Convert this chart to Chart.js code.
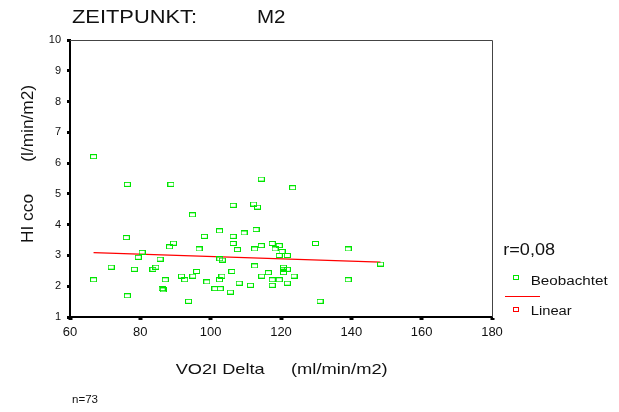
<!DOCTYPE html>
<html>
<head>
<meta charset="utf-8">
<script src="https://cdn.jsdelivr.net/npm/chart.js@4.4.1/dist/chart.umd.min.js"></script>
<style>
  body { margin: 0; background: #fff; }
  canvas { display: block; }
</style>
</head>
<body>
<canvas id="chart" width="619" height="412"></canvas>
<script>
// VO2I Delta (ml/min/m2) per patient
const vo2Delta = [
  66.7, 76.3, 76.0, 80.5, 79.4, 85.6, 71.7, 78.3, 83.6, 84.4,
  66.7, 87.1, 86.2, 86.5, 76.3, 88.7, 106.4, 94.8, 102.5, 106.4,
  98.2, 106.4, 89.4, 88.3, 107.6, 96.7, 102.6, 103.3, 96.0, 106.0,
  91.7, 92.6, 94.9, 103.2, 102.5, 98.9, 108.1, 101.2, 102.7, 105.6,
  93.7, 114.4, 123.3, 112.2, 113.3, 109.5, 112.9, 112.5, 114.4, 117.5,
  119.5, 118.3, 120.3, 119.5, 121.8, 112.5, 120.7, 121.8, 120.7, 116.4,
  114.5, 123.7, 117.5, 119.5, 111.3, 117.5, 121.8, 129.8, 139.1, 148.3,
  139.1, 131.1, 120.7
];
// HI cco (l/min/m2) per patient
const hiCco = [
  6.21, 5.31, 3.58, 3.10, 2.94, 2.88, 2.62, 2.55, 2.55, 2.62,
  2.21, 2.21, 1.92, 1.88, 1.69, 5.31, 4.63, 4.32, 3.80, 3.62,
  3.62, 3.39, 3.40, 3.28, 3.19, 3.21, 2.89, 2.85, 2.48, 2.48,
  2.33, 2.21, 2.33, 2.33, 2.21, 2.14, 2.10, 1.92, 1.92, 1.81,
  1.51, 5.48, 5.20, 4.67, 4.57, 3.73, 3.84, 3.21, 3.32, 3.39,
  3.32, 3.21, 3.13, 3.00, 3.00, 2.66, 2.62, 2.55, 2.44, 2.44,
  2.33, 2.33, 2.21, 2.21, 2.03, 2.03, 2.10, 3.39, 3.21, 2.72,
  2.21, 1.51, 2.55
];
// linear fit line
const fitX = [66.7, 148.3];
const fitY = [3.09, 2.78];

const xTicks = [60, 80, 100, 120, 140, 160, 180];
const yTicks = [1, 2, 3, 4, 5, 6, 7, 8, 9, 10];

const FONT = '"Liberation Sans", Arial, sans-serif';
const GREEN = 'rgb(0, 230, 0)';
const RED = 'rgb(255, 0, 0)';

// small hollow rectangle used as marker
function boxMarker(w, h, color) {
  const c = document.createElement('canvas');
  c.width = w; c.height = h;
  const g = c.getContext('2d');
  g.strokeStyle = color;
  g.lineWidth = 1;
  g.strokeRect(0.5, 0.5, w - 1, h - 1);
  return c;
}

function fitText(ctx, str, x, y, size, width) {
  ctx.font = size + 'px ' + FONT;
  const w = ctx.measureText(str).width;
  ctx.save();
  ctx.translate(x, y);
  ctx.scale(width / w, 1);
  ctx.fillText(str, 0, 0);
  ctx.restore();
}

const decorations = {
  id: 'decorations',
  afterDraw(chart) {
    const ctx = chart.ctx;
    const { left, right, top, bottom } = chart.chartArea;
    ctx.save();
    // top and right frame
    ctx.strokeStyle = '#444';
    ctx.lineWidth = 1;
    ctx.beginPath();
    ctx.moveTo(left, top + 0.5);
    ctx.lineTo(right + 0.5, top + 0.5);
    ctx.lineTo(right + 0.5, bottom);
    ctx.stroke();

    ctx.fillStyle = '#111';
    ctx.textAlign = 'left';
    ctx.textBaseline = 'alphabetic';
    fitText(ctx, 'ZEITPUNKT:', 72, 23, 19, 125);
    fitText(ctx, 'M2', 257, 23, 19, 28.5);

    fitText(ctx, 'VO2I Delta', 175.7, 374, 15, 89);
    fitText(ctx, '(ml/min/m2)', 291, 374, 15, 96.7);

    fitText(ctx, 'n=73', 72, 403, 10, 26);

    // y title, rotated
    ctx.save();
    ctx.translate(33, 243);
    ctx.rotate(-Math.PI / 2);
    fitText(ctx, 'HI cco', 0, 0, 16, 49);
    fitText(ctx, '(l/min/m2)', 243 - 161.7, 0, 16, 76.7);
    ctx.restore();

    // legend
    fitText(ctx, 'r=0,08', 503.3, 255, 16, 51.7);
    ctx.strokeStyle = GREEN;
    ctx.strokeRect(513.5, 275.5, 5, 4);
    fitText(ctx, 'Beobachtet', 530.7, 285, 12, 77);
    ctx.strokeStyle = RED;
    ctx.beginPath();
    ctx.moveTo(505, 296.5);
    ctx.lineTo(540, 296.5);
    ctx.stroke();
    ctx.strokeRect(513.5, 307.5, 5, 4);
    fitText(ctx, 'Linear', 530.7, 315, 12, 41);
    ctx.restore();
  }
};

const scatterPoints = vo2Delta.map((v, i) => ({ x: v, y: hiCco[i] }));
const fitPoints = fitX.map((v, i) => ({ x: v, y: fitY[i] }));

new Chart(document.getElementById('chart'), {
  type: 'scatter',
  data: {
    datasets: [
      {
        label: 'Linear',
        type: 'line',
        data: fitPoints,
        borderColor: RED,
        borderWidth: 1.2,
        pointRadius: 0,
        fill: false,
        order: 2
      },
      {
        label: 'Beobachtet',
        data: scatterPoints,
        pointStyle: boxMarker(7, 5, GREEN),
        order: 1
      }
    ]
  },
  options: {
    responsive: false,
    animation: false,
    events: [],
    layout: { padding: { left: 0, top: 40, right: 127, bottom: 0 } },
    plugins: {
      legend: { display: false },
      tooltip: { enabled: false },
      title: { display: false }
    },
    scales: {
      x: {
        type: 'linear',
        min: xTicks[0],
        max: xTicks[xTicks.length - 1],
        afterFit(scale) { scale.height = 95; },
        afterBuildTicks(scale) { scale.ticks = xTicks.map(v => ({ value: v })); },
        border: { display: true, color: '#000', width: 2 },
        grid: { drawOnChartArea: false, drawTicks: true, tickLength: 3, tickWidth: 4, color: '#000' },
        ticks: { color: '#111', font: { family: FONT, size: 13 }, padding: 5, maxRotation: 0 }
      },
      y: {
        type: 'linear',
        min: yTicks[0],
        max: yTicks[yTicks.length - 1],
        afterFit(scale) { scale.width = 70; },
        afterBuildTicks(scale) { scale.ticks = yTicks.map(v => ({ value: v })); },
        border: { display: true, color: '#000', width: 2 },
        grid: { drawOnChartArea: false, drawTicks: true, tickLength: 3, tickWidth: 3, color: '#000' },
        ticks: { color: '#111', font: { family: FONT, size: 11 }, padding: 6 }
      }
    }
  },
  plugins: [decorations]
});
</script>
</body>
</html>
